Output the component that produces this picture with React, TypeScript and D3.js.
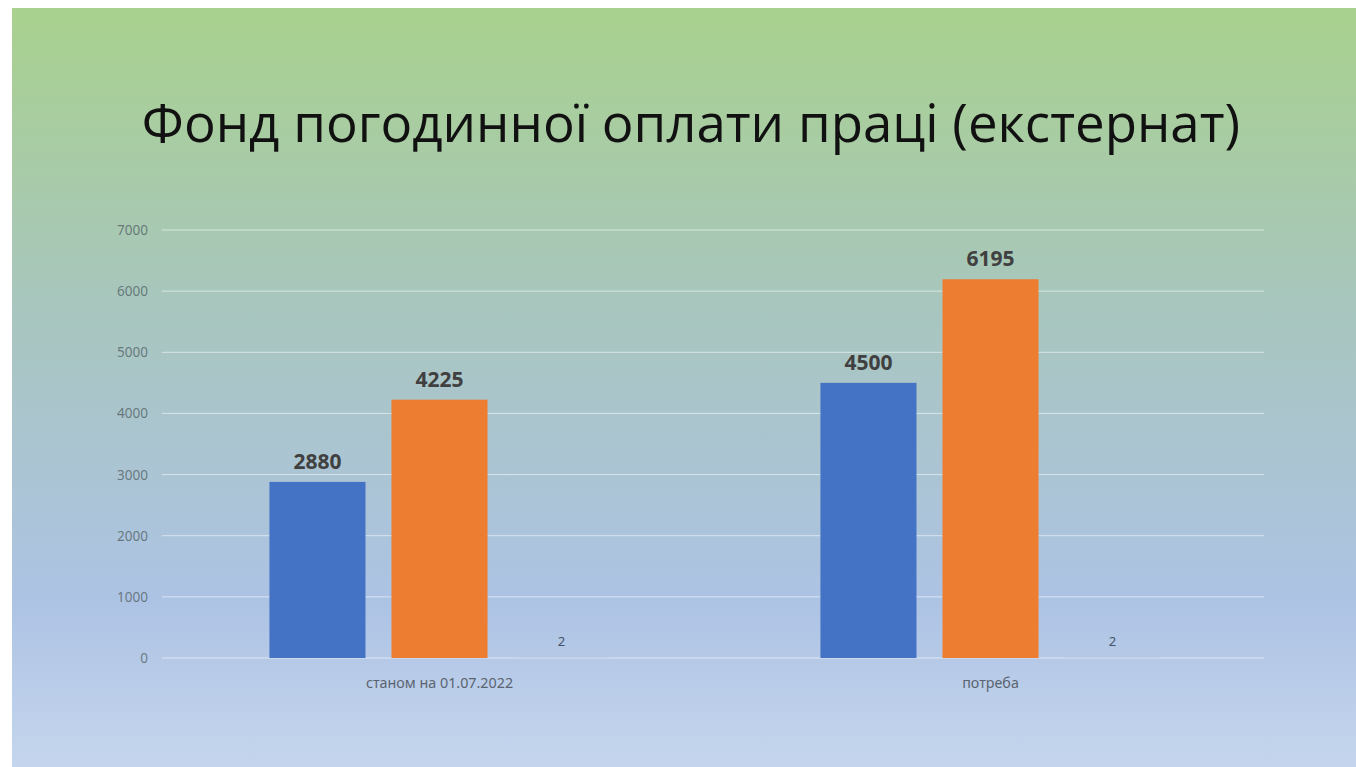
import React from "react";
import * as d3 from "d3";

const title = "Фонд погодинної оплати праці (екстернат)";
const categories = ["станом на 01.07.2022", "потреба"];
const seriesNames = ["Ряд 1", "Ряд 2", "Ряд 3"];
const series1 = [2880, 4500];
const series2 = [4225, 6195];
const series3 = [2, 2];
const yTicks = [0, 1000, 2000, 3000, 4000, 5000, 6000, 7000];

const W = 1356;
const H = 767;
const colors = ["#4472c4", "#ed7d31", "#a5a5a5"];

export default function App() {
  const left = 164, right = 1266, top = 230, bottom = 658;
  const y = d3.scaleLinear().domain([0, 7000]).range([bottom, top]);
  const x0 = d3.scaleBand<string>().domain(categories).range([left, right]);
  const x1 = d3
    .scaleBand<string>()
    .domain(seriesNames)
    .range([0, x0.bandwidth()])
    .paddingInner(0.213)
    .paddingOuter(0.864);
  const values = [series1, series2, series3];

  return (
    <svg
      width={W}
      height={H}
      style={{ position: "absolute", left: 0, top: 0, display: "block" }}
      fontFamily="'Noto Sans', 'Open Sans', sans-serif"
    >
      <defs>
        <linearGradient id="bg" x1="0" y1="0" x2="0" y2="1">
          <stop offset="0" stopColor="#a9d18e" />
          <stop offset="0.4" stopColor="#a8c6bf" />
          <stop offset="0.78" stopColor="#adc3e4" />
          <stop offset="1" stopColor="#c5d5ed" />
        </linearGradient>
      </defs>
      <rect x={0} y={0} width={W} height={H} fill="#ffffff" />
      <rect x={12} y={8} width={W - 12} height={H - 8} fill="url(#bg)" />
      <text
        x={691}
        y={142}
        textAnchor="middle"
        fontSize={52.8}
        fill="#111111"
        fontFamily="'Open Sans', 'Noto Sans', sans-serif"
      >
        {title}
      </text>
      {yTicks.map((t) => (
        <g key={t}>
          <line
            x1={162}
            x2={1264}
            y1={y(t)}
            y2={y(t)}
            stroke="#ffffff"
            strokeOpacity={0.55}
            strokeWidth={1}
          />
          <text
            x={148}
            y={y(t) + 5}
            textAnchor="end"
            fontSize={13.5}
            fill="#5a6a6e"
            fillOpacity={0.85}
          >
            {t}
          </text>
        </g>
      ))}
      {categories.map((c, ci) => (
        <g key={c} transform={`translate(${x0(c)},0)`}>
          {seriesNames.map((s, si) => {
            const v = values[si][ci];
            const bx = x1(s)!;
            const bw = x1.bandwidth();
            const by = y(v);
            return (
              <g key={s}>
                <rect x={bx} y={by} width={bw} height={bottom - by} fill={colors[si]} />
                {si < 2 ? (
                  <text
                    x={bx + bw / 2}
                    y={by - 13}
                    textAnchor="middle"
                    fontSize={21}
                    fontWeight="bold"
                    fill="#404040"
                  >
                    {v}
                  </text>
                ) : (
                  <text
                    x={bx + bw / 2}
                    y={by - 12}
                    textAnchor="middle"
                    fontSize={13}
                    fill="#44546a"
                  >
                    {v}
                  </text>
                )}
              </g>
            );
          })}
          <text
            x={x0.bandwidth() / 2}
            y={688}
            textAnchor="middle"
            fontSize={14.3}
            fill="#5a6470"
          >
            {c}
          </text>
        </g>
      ))}
    </svg>
  );
}
